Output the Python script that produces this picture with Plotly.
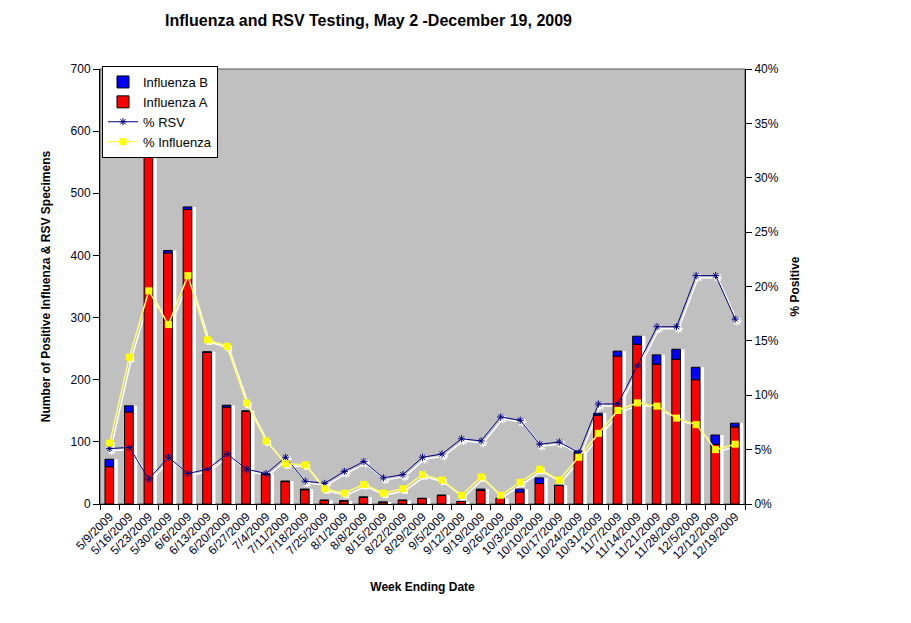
import plotly.graph_objects as go

# Weekly data
weeks = ["5/9/2009", "5/16/2009", "5/23/2009", "5/30/2009", "6/6/2009", "6/13/2009",
         "6/20/2009", "6/27/2009", "7/4/2009", "7/11/2009", "7/18/2009", "7/25/2009",
         "8/1/2009", "8/8/2009", "8/15/2009", "8/22/2009", "8/29/2009", "9/5/2009",
         "9/12/2009", "9/19/2009", "9/26/2009", "10/3/2009", "10/10/2009", "10/17/2009",
         "10/24/2009", "10/31/2009", "11/7/2009", "11/14/2009", "11/21/2009", "11/28/2009",
         "12/5/2009", "12/12/2009", "12/19/2009"]

flu_a = [60, 148, 600, 404, 474, 244, 156, 149, 48, 36, 23, 6,
         5, 11, 3, 6, 9, 14, 4, 22, 9, 19, 33, 30,
         81, 143, 238, 257, 225, 233, 200, 96, 124]
flu_b = [12, 10, 0, 4, 4, 1, 3, 1, 1, 1, 1, 0,
         0, 0, 0, 0, 0, 0, 0, 2, 0, 5, 9, 0,
         4, 3, 8, 13, 15, 16, 20, 15, 6]

pct_rsv = [5.1, 5.2, 2.3, 4.3, 2.8, 3.2, 4.6, 3.2, 2.8, 4.3, 2.1, 1.9,
           3.0, 3.9, 2.4, 2.7, 4.3, 4.6, 6.0, 5.8, 8.0, 7.7, 5.5, 5.7,
           4.7, 9.2, 9.2, 12.7, 16.3, 16.3, 21.0, 21.0, 17.0]
pct_flu = [5.6, 13.5, 19.6, 16.5, 21.0, 15.1, 14.5, 9.3, 5.8, 3.7, 3.6, 1.4,
           1.0, 1.8, 1.0, 1.4, 2.7, 2.2, 0.8, 2.5, 0.8, 2.0, 3.2, 2.2,
           4.3, 6.5, 8.6, 9.3, 9.0, 7.9, 7.3, 5.0, 5.5]

flu_total = [a + b for a, b in zip(flu_a, flu_b)]

FONT = "Arial, Liberation Sans, sans-serif"
# the page body has an 8px margin, so the figure is drawn 8px in from the corner
FIG_W, FIG_H = 903, 615
W, H = 647, 437          # plot area in px (incl. 2px shadow shift)
dx, dy = 2 / W, 2 / H    # shadow shift as domain fraction

fig = go.Figure()

# --- shadows of the percent lines (separate shifted subplot, drawn first) ---
fig.add_trace(go.Scatter(x=weeks, y=pct_flu, xaxis="x", yaxis="y", mode="lines+markers",
                         line=dict(color="white", width=1.5),
                         marker=dict(symbol="square", size=6, color="white"),
                         showlegend=False, hoverinfo="skip"))
fig.add_trace(go.Scatter(x=weeks, y=pct_rsv, xaxis="x", yaxis="y", mode="lines+markers",
                         line=dict(color="white", width=1.5),
                         marker=dict(symbol="asterisk-open", size=7, line=dict(color="white", width=1.5)),
                         showlegend=False, hoverinfo="skip"))

# --- bar shadow ---
fig.add_trace(go.Bar(x=weeks, y=flu_total, xaxis="x2", yaxis="y3",
                     width=0.45, offset=-0.045, marker=dict(color="white", line=dict(width=0)),
                     showlegend=False, hoverinfo="skip"))

# --- bars ---
fig.add_trace(go.Bar(x=weeks, y=flu_a, name="Influenza A", xaxis="x2", yaxis="y3",
                     width=0.445, offset=-0.245, legendrank=2,
                     marker=dict(color="#FF0000", line=dict(color="black", width=1))))
fig.add_trace(go.Bar(x=weeks, y=flu_b, base=flu_a, name="Influenza B", xaxis="x2", yaxis="y3",
                     width=0.445, offset=-0.245, legendrank=1,
                     marker=dict(color="#0000FF", line=dict(color="black", width=1))))

# --- percent lines ---
fig.add_trace(go.Scatter(x=weeks, y=pct_rsv, name="% RSV", xaxis="x2", yaxis="y4",
                         mode="lines+markers", legendrank=3,
                         line=dict(color="#000080", width=1),
                         marker=dict(symbol="asterisk-open", size=6, line=dict(color="#000080", width=1))))
fig.add_trace(go.Scatter(x=weeks, y=pct_flu, name="% Influenza", xaxis="x2", yaxis="y4",
                         mode="lines+markers", legendrank=4,
                         line=dict(color="#FFFF66", width=1.5),
                         marker=dict(symbol="square", size=7, color="#FFFF00")))

tick_font = dict(family=FONT, size=12, color="#000020")

fig.update_layout(
    width=FIG_W, height=FIG_H,
    barmode="overlay",
    paper_bgcolor="white",
    plot_bgcolor="rgba(0,0,0,0)",
    margin=dict(l=92, r=164, t=61, b=117, autoexpand=False),
    font=dict(family=FONT, size=12, color="black"),
    title=dict(text="<b>Influenza and RSV Testing, May 2 -December 19, 2009</b>",
               font=dict(family=FONT, size=16, color="black"),
               xref="paper", x=0.415, xanchor="center",
               yref="container", y=1 - 12 / FIG_H, yanchor="middle"),
    # shadow subplot (invisible, shifted right/down)
    xaxis=dict(domain=[dx, 1], type="category", range=[-0.5, len(weeks) - 0.5],
               visible=False, anchor="y"),
    yaxis=dict(domain=[0, 1 - dy], range=[0, 40], visible=False, anchor="x"),
    # main subplot
    xaxis2=dict(domain=[0, 1 - dx], type="category", range=[-0.5, len(weeks) - 0.5],
                anchor="y3", showline=True, linecolor="black", linewidth=1,
                ticks="outside", tickson="boundaries", ticklen=5, tickcolor="black",
                tickangle=-45, tickfont=dict(family=FONT, size=12, color="#000020"),
                showgrid=False, automargin=False,
                title=dict(text="<b>Week Ending Date</b>", font=dict(family=FONT, size=12),
                           standoff=21)),
    yaxis3=dict(domain=[dy, 1], range=[0, 700], dtick=100, anchor="x2",
                showline=True, linecolor="black", linewidth=1,
                ticks="outside", ticklen=6, tickcolor="black", showgrid=False,
                zeroline=False, tickfont=tick_font, automargin=False,
                title=dict(text="<b>Number of Positive Influenza & RSV Specimens</b>",
                           font=dict(family=FONT, size=12), standoff=17)),
    yaxis4=dict(overlaying="y3", side="right", anchor="x2", range=[0, 40], dtick=5,
                ticksuffix="%", showline=True, linecolor="black", linewidth=1,
                ticks="outside", ticklen=6, tickcolor="black", showgrid=False,
                zeroline=False, tickfont=tick_font, automargin=False,
                title=dict(text="<b>% Positive</b>", font=dict(family=FONT, size=12),
                           standoff=12)),
    legend=dict(x=dx, y=1 + 3 / H, xanchor="left", yanchor="top",
                bgcolor="white", bordercolor="black", borderwidth=1,
                font=dict(family=FONT, size=13, color="black"),
                traceorder="normal", tracegroupgap=0, itemwidth=30),
    shapes=[dict(type="rect", xref="paper", yref="paper", x0=0, x1=1 - dx, y0=dy, y1=1,
                 fillcolor="#C0C0C0", line=dict(color="#555555", width=1), layer="below")],
    showlegend=True,
)

fig.write_html("out.html")
